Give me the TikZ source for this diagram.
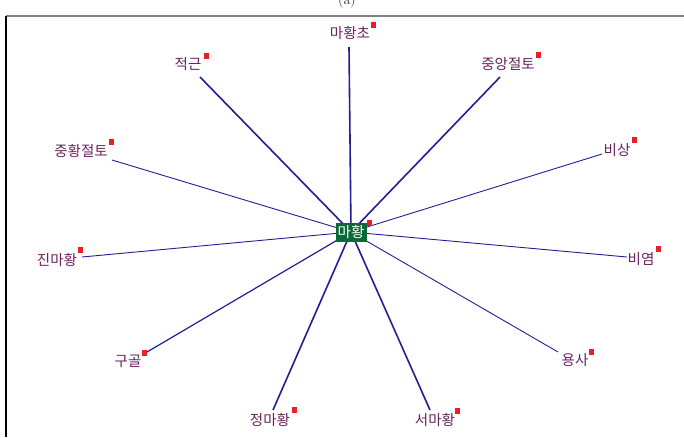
\documentclass[tikz,border=0pt]{standalone}
\usepackage{fontspec}
\newfontfamily\kr{Noto Sans CJK KR}
\definecolor{linkc}{RGB}{35,30,150}
\definecolor{labc}{RGB}{105,35,95}
\definecolor{hubc}{RGB}{10,105,55}
\definecolor{markc}{RGB}{235,30,35}
\begin{document}
\begin{tikzpicture}[x=1pt,y=-1pt,
  lab/.style={font=\kr\fontsize{14.5}{16}\selectfont, text=labc, inner sep=0pt},
  mk/.style={fill=markc, draw=none, minimum width=5pt, minimum height=6pt, inner sep=0pt},
  thin link/.style={draw=linkc, line width=0.9pt},
  thick link/.style={draw=linkc, line width=1.6pt},
  hubbox/.style={fill=hubc, text=white, font=\kr\fontsize{14.5}{16}\selectfont, minimum width=31pt, minimum height=19pt, inner sep=0pt}]
\useasboundingbox (0,0) rectangle (684,437);
\fill[white] (0,0) rectangle (684,437);
% frame
\node[font=\fontsize{14}{16}\selectfont, anchor=base, text=black!80] (cap) at (347,4) {(a)};
\draw[gray, line width=1.5pt] (6,16) -- (684,16);
\draw[black, line width=1.3pt] (6,16) -- (6,437);
% hub position
\coordinate (hub) at (351,232);
% line ends
\coordinate (e1) at (349,47);
\coordinate (e2) at (200,77);
\coordinate (e3) at (500,77);
\coordinate (e4) at (112,160);
\coordinate (e5) at (602,154);
\coordinate (e6) at (82,257);
\coordinate (e7) at (627,257);
\coordinate (e8) at (147,352);
\coordinate (e9) at (558,352);
\coordinate (e10) at (273,410);
\coordinate (e11) at (430,410);
\draw[thick link] (e1) -- (hub);
\draw[thick link] (e2) -- (hub);
\draw[thick link] (e3) -- (hub);
\draw[thin link] (e4) -- (hub);
\draw[thin link] (e5) -- (hub);
\draw[thin link] (e6) -- (hub);
\draw[thin link] (e7) -- (hub);
\draw[thick link, line width=1.2pt] (e8) -- (hub);
\draw[thin link] (e9) -- (hub);
\draw[thick link] (e10) -- (hub);
\draw[thick link] (e11) -- (hub);
% hub
\node[hubbox] (c) at (hub) {마황};
\node[mk] (mc) at (369,223) {};
% labels
\node[lab] (n1) at (350,33) {마황초};  \node[mk] (m1) at (373,25) {};
\node[lab] (n2) at (188,64) {적근};    \node[mk] (m2) at (206,56) {};
\node[lab] (n3) at (508,64) {중앙절토}; \node[mk] (m3) at (538,55) {};
\node[lab] (n4) at (81,151) {중황절토}; \node[mk] (m4) at (111,142) {};
\node[lab] (n5) at (617,150) {비상};   \node[mk] (m5) at (634,140) {};
\node[lab] (n6) at (57,260) {진마황};  \node[mk] (m6) at (80,250) {};
\node[lab] (n7) at (641,259) {비염};   \node[mk] (m7) at (658,249) {};
\node[lab] (n8) at (128,361) {구골};   \node[mk] (m8) at (144,353) {};
\node[lab] (n9) at (575,360) {용사};   \node[mk] (m9) at (591,352) {};
\node[lab] (n10) at (270,420) {정마황}; \node[mk] (m10) at (294,410) {};
\node[lab] (n11) at (435,420) {서마황}; \node[mk] (m11) at (457,411) {};
\end{tikzpicture}
\end{document}
